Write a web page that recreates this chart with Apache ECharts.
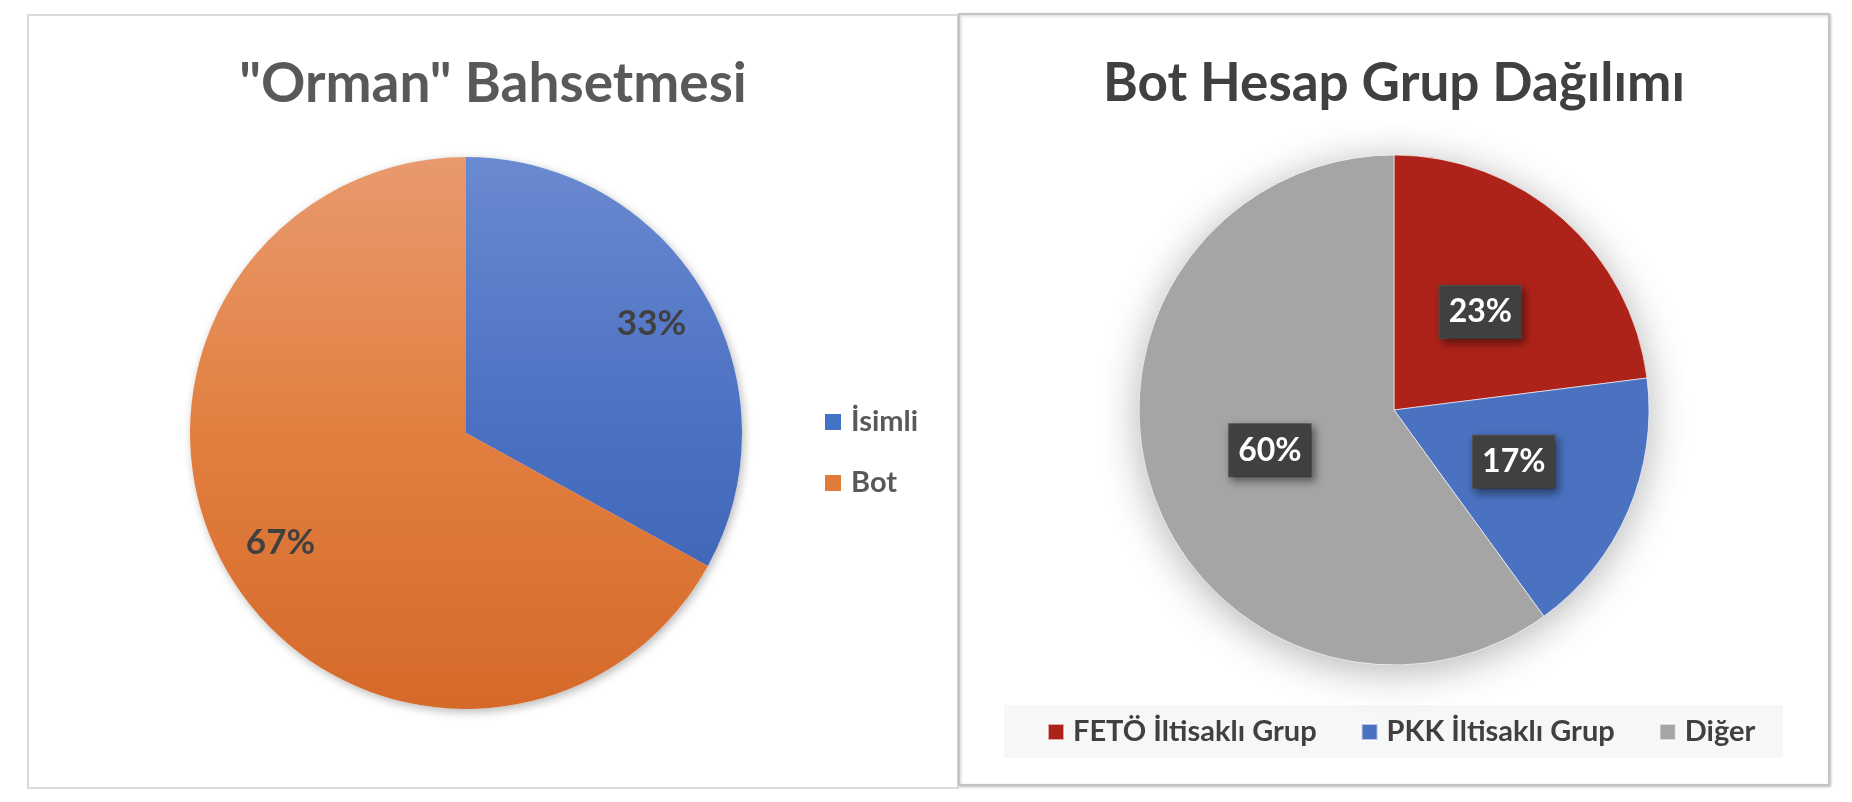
<!DOCTYPE html>
<html>
<head>
<meta charset="utf-8">
<script src="https://cdn.jsdelivr.net/npm/echarts@6/dist/echarts.min.js"></script>
<style>
html,body{margin:0;padding:0;background:#fff;}
#c{width:1852px;height:802px;}
</style>
</head>
<body>
<div id="c"></div>
<script>
// ---- data ----
const leftTitle = '"Orman" Bahsetmesi';
const leftCategories = ['İsimli', 'Bot'];
const leftValues = [33, 67];

const rightTitle = 'Bot Hesap Grup Dağılımı';
const rightCategories = ['FETÖ İltisaklı Grup', 'PKK İltisaklı Grup', 'Diğer'];
const rightValues = [23, 17, 60];

// ---- styles ----
const FONT = 'Lato';
const grad = (c0, c1, c2) => ({
  type: 'linear', x: 0, y: 157, x2: 0, y2: 709, global: true,
  colorStops: [{offset: 0, color: c0}, {offset: 0.5, color: c1}, {offset: 1, color: c2}]
});
const leftColors = [grad('#6A8AD0', '#4A70C2', '#3A5FB0'), grad('#E89A6E', '#E27F40', '#D5692A')];
const leftLegendColors = ['#4472C4', '#E07B39'];
const rightColors = ['#AE2319', '#4A72C0', '#A5A5A5'];

const leftData = leftCategories.map((n, i) => ({name: n, value: leftValues[i], itemStyle: {color: leftColors[i]}}));
const rightData = rightCategories.map((n, i) => ({name: n, value: rightValues[i], itemStyle: {color: rightColors[i]}}));

const L_CENTER = [466, 433], L_R = 276;
const R_CENTER = [1394, 410], R_R = 255;

const chart = echarts.init(document.getElementById('c'), null, {renderer: 'canvas'});
chart.setOption({
  backgroundColor: '#fff',
  animation: false,
  title: [
    {text: leftTitle, left: 493, top: 84, textAlign: 'center', textVerticalAlign: 'middle', padding: 0,
     textStyle: {fontFamily: FONT, fontWeight: 'bold', fontSize: 55, color: '#595959'}},
    {text: rightTitle, left: 1394, top: 84, textAlign: 'center', textVerticalAlign: 'middle', padding: 0,
     textStyle: {fontFamily: FONT, fontWeight: 'bold', fontSize: 53, color: '#404040'}}
  ],
  legend: [
    {data: leftCategories.map((n, i) => ({name: n, itemStyle: {color: leftLegendColors[i]}})),
     orient: 'vertical', left: 825, top: 406, itemWidth: 16, itemHeight: 16, itemGap: 29,
     icon: 'rect', padding: 0, selectedMode: false,
     textStyle: {fontFamily: FONT, fontWeight: 'bold', fontSize: 29, color: '#595959', lineHeight: 32, padding: [0, 0, 0, 5]}},
    {data: rightCategories, orient: 'horizontal', left: 1047, top: 716, itemWidth: 16, itemHeight: 16, itemGap: 44,
     icon: 'rect', padding: 0, selectedMode: false,
     textStyle: {fontFamily: FONT, fontWeight: 'bold', fontSize: 29, color: '#404040', lineHeight: 32, padding: [0, 0, 0, 4]}}
  ],
  graphic: [
    {type: 'rect', z: -10, shape: {x: 28, y: 15, width: 930, height: 773},
     style: {fill: '#fff', stroke: '#DADADA', lineWidth: 2}},
    {type: 'rect', z: -9, shape: {x: 959, y: 14, width: 870, height: 771},
     style: {fill: '#fff', stroke: '#C4C4C4', lineWidth: 2, shadowBlur: 3, shadowOffsetX: 1, shadowOffsetY: 1, shadowColor: 'rgba(0,0,0,0.2)'}},
    {type: 'rect', z: -8, shape: {x: 1004, y: 705, width: 779, height: 53},
     style: {fill: '#F7F7F7'}}
  ],
  series: [
    // visible left pie
    {type: 'pie', name: 'left', z: 3, center: L_CENTER, radius: [0, L_R], startAngle: 90, clockwise: true,
     silent: true, label: {show: false}, labelLine: {show: false}, data: leftData},
    // visible right pie
    {type: 'pie', name: 'right', z: 3, center: R_CENTER, radius: [0, R_R], startAngle: 90, clockwise: true,
     silent: true, itemStyle: {borderColor: 'rgba(255,255,255,0.6)', borderWidth: 1},
     label: {show: true, position: 'inside', formatter: '{c}%', fontFamily: FONT, fontWeight: 'bold', fontSize: 32,
             color: '#fff', backgroundColor: '#404040', borderColor: '#555', borderWidth: 1,
             padding: [10, 9, 8, 9], lineHeight: 34,
             shadowBlur: 8, shadowOffsetX: 3, shadowOffsetY: 4, shadowColor: 'rgba(0,0,0,0.45)'},
     labelLine: {show: false}, data: rightData},
    // shadow underlays
    {type: 'pie', name: 'leftShadow', z: 1, center: L_CENTER, radius: [0, L_R], startAngle: 90, silent: true,
     label: {show: false}, labelLine: {show: false},
     itemStyle: {color: '#fff', shadowBlur: 10, shadowOffsetX: 2, shadowOffsetY: 3, shadowColor: 'rgba(0,0,0,0.28)'},
     data: leftValues.map((v, i) => ({name: '_ls' + i, value: v}))},
    {type: 'pie', name: 'rightShadow', z: 1, center: R_CENTER, radius: [0, R_R], startAngle: 90, silent: true,
     label: {show: false}, labelLine: {show: false},
     itemStyle: {color: '#fff', shadowBlur: 40, shadowOffsetX: 0, shadowOffsetY: 6, shadowColor: 'rgba(0,0,0,0.3)'},
     data: rightValues.map((v, i) => ({name: '_rs' + i, value: v}))},
    // left labels ring (transparent) to push labels outward
    {type: 'pie', name: 'leftLabels', z: 4, center: L_CENTER, radius: [Math.round(L_R * 0.54), L_R], startAngle: 90, silent: true,
     itemStyle: {color: 'rgba(0,0,0,0)'},
     label: {show: true, position: 'inside', formatter: '{c}%', fontFamily: FONT, fontWeight: 'bold', fontSize: 35, color: '#404040'},
     labelLine: {show: false},
     data: leftValues.map((v, i) => ({name: '_ll' + i, value: v}))}
  ]
});
</script>
</body>
</html>
